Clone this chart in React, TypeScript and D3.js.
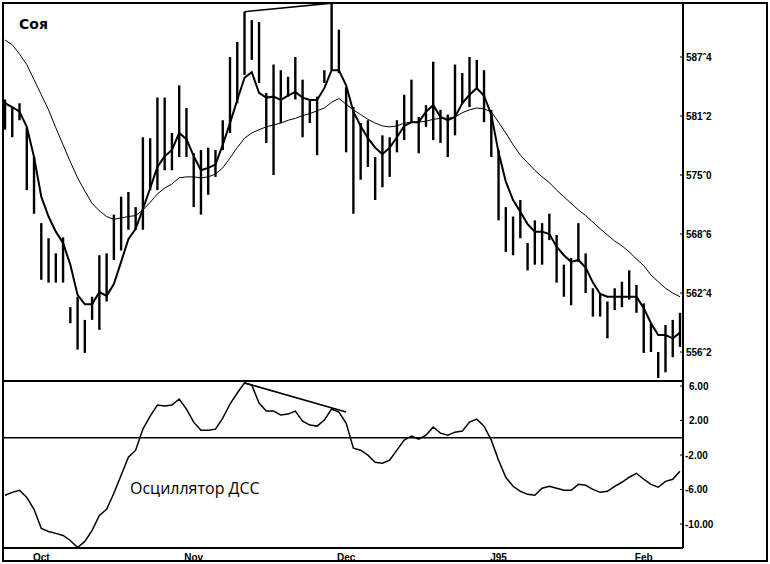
import React from 'react';
import * as d3 from 'd3';

// Daily bars (high / low)
const highs = [
  583.0, 582.2, 582.6, 580.0, 576.9, 569.9, 568.3, 566.7, 568.4, 561.0,
  562.1, 559.65, 562.1, 566.5, 566.7, 570.8, 572.7, 573.2, 571.6, 579.0,
  578.9, 583.2, 583.2, 579.45, 584.5, 582.1, 577.3, 577.65, 577.9, 577.65,
  580.8, 587.5, 589.1, 592.3, 591.4, 591.2, 583.7, 586.7, 586.1, 585.4,
  587.5, 585.1, 583.0, 583.3, 586.1, 593.2, 590.4, 584.3, 582.2, 580.5,
  580.8, 576.9, 579.2, 579.0, 580.8, 583.5, 585.1, 581.15, 582.4, 587.0,
  581.9, 581.4, 586.7, 585.8, 587.5, 587.2, 586.1, 581.9, 577.65, 571.6,
  570.6, 572.35, 567.8, 570.2, 569.9, 570.9, 568.65, 565.5, 566.2, 569.9,
  566.7, 563.0, 562.5, 561.6, 563.0, 563.7, 564.9, 563.35, 561.4, 559.3,
  556.25, 559.1, 559.65, 560.4,
];
const lows = [
  579.8, 579.0, 580.8, 573.4, 570.9, 563.9, 563.6, 563.6, 563.6, 559.3,
  556.5, 556.15, 559.65, 558.6, 561.6, 566.0, 567.0, 569.2, 569.2, 569.2,
  573.4, 573.4, 575.5, 575.5, 576.9, 576.9, 571.6, 570.8, 572.9, 574.8,
  577.65, 579.45, 582.6, 585.6, 587.2, 584.75, 578.4, 575.0, 580.5, 583.3,
  583.0, 579.0, 580.5, 577.1, 584.75, 586.1, 585.8, 577.4, 570.9, 574.5,
  575.85, 572.35, 573.7, 574.8, 577.4, 578.7, 580.5, 577.3, 580.1, 578.7,
  578.4, 576.9, 579.2, 582.6, 582.2, 584.0, 580.6, 576.9, 570.2, 566.85,
  566.5, 568.3, 564.9, 565.5, 565.5, 568.1, 563.6, 562.1, 561.2, 565.8,
  562.5, 560.0, 560.0, 557.7, 560.7, 561.0, 561.8, 560.4, 556.15, 556.25,
  553.5, 554.1, 555.7, 556.8,
];
// Short moving average (thick line)
const fastMA = [
  582.6, 582.2, 581.7, 580.1, 576.9, 572.7, 570.6, 569.0, 567.8, 565.5,
  562.3, 561.3, 561.3, 562.6, 562.2, 563.45, 565.8, 568.2, 569.3, 571.4,
  573.6, 575.85, 577.0, 577.65, 579.45, 578.8, 577.0, 575.5, 575.75, 576.1,
  578.2, 580.5, 582.95, 585.3, 585.9, 583.7, 583.2, 583.3, 582.95, 583.4,
  583.8, 583.2, 582.95, 582.95, 584.2, 586.1, 586.1, 584.5, 581.7, 580.2,
  578.9, 577.9, 577.2, 577.9, 579.0, 580.2, 580.6, 580.6, 581.7, 582.4,
  581.15, 580.8, 581.15, 582.6, 583.5, 584.2, 583.4, 581.4, 577.4, 574.3,
  572.35, 571.1, 569.8, 569.0, 569.0, 568.75, 567.4, 566.5, 565.8, 566.0,
  565.2, 563.6, 562.4, 562.1, 562.1, 562.1, 562.1, 562.1, 560.9, 559.3,
  558.05, 558.05, 557.7, 558.3,
];
// Long moving average (thin line)
const slowMA = [
  589.3, 588.8, 587.8, 586.7, 585.1, 583.5, 581.9, 580.0, 578.2, 576.4,
  574.7, 573.3, 572.0, 571.2, 570.6, 570.3, 570.45, 570.6, 570.7, 571.3,
  572.1, 573.0, 573.6, 574.05, 574.7, 574.8, 574.8, 574.7, 574.8, 575.1,
  575.75, 576.8, 577.9, 578.9, 579.45, 579.8, 580.1, 580.3, 580.5, 580.8,
  581.0, 581.3, 581.5, 581.8, 582.1, 582.7, 583.1, 582.5, 581.9, 581.4,
  580.9, 580.5, 580.2, 580.1, 580.2, 580.5, 580.6, 580.6, 580.7, 580.9,
  581.0, 581.0, 581.15, 581.6, 581.9, 582.1, 582.0, 581.7, 580.6, 579.45,
  578.2, 577.1, 576.3, 575.5, 574.8, 574.2, 573.4, 572.7, 572.0, 571.3,
  570.7, 570.0, 569.3, 568.65, 568.0, 567.5, 566.85, 566.1, 565.4, 564.4,
  563.7, 563.0, 562.5, 562.1,
];
// Oscillator (ДСС)
const osc = [
  -6.67, -6.33, -6.09, -6.91, -8.3, -10.51, -10.86, -11.09, -11.33, -11.91,
  -12.72, -12.02, -10.74, -9.0, -8.3, -6.44, -4.35, -2.26, -1.44, 1.0,
  2.51, 3.79, 3.67, 3.79, 4.49, 3.33, 1.81, 0.88, 0.88, 1.0,
  2.28, 3.91, 5.19, 6.35, 6.12, 4.02, 3.09, 3.09, 2.63, 2.74,
  3.09, 1.93, 1.47, 1.35, 2.05, 3.33, 2.98, 1.7, -1.21, -1.44,
  -2.02, -2.84, -2.95, -2.6, -1.44, -0.28, 0.19, -0.16, 0.3, 1.23,
  0.53, 0.3, 0.65, 0.77, 1.81, 2.16, 1.35, -0.28, -2.6, -4.58,
  -5.63, -6.21, -6.56, -6.67, -5.86, -5.63, -5.86, -6.09, -6.09, -5.4,
  -5.51, -5.98, -6.33, -6.21, -5.63, -5.16, -4.58, -4.12, -4.81, -5.4,
  -5.74, -5.05, -4.81, -3.88,
];

const months = ['Oct', 'Nov', 'Dec', 'J95', 'Feb'];
const monthIdx = [5, 26, 47, 68, 88];
const priceTicks = [587.5, 581.25, 575, 568.75, 562.5, 556.25];
const priceTickLabels = ['587ˆ4', '581ˆ2', '575ˆ0', '568ˆ6', '562ˆ4', '556ˆ2'];
const oscTicks = [6, 2, -2, -6, -10];
const oscTickLabels = ['6.00', '2.00', '-2.00', '-6.00', '-10.00'];
const priceTrend: [number, number][] = [[33, 592.3], [45, 593.2]];
const oscTrend: [number, number][] = [[33, 6.35], [47, 2.98]];

export default function App() {
  const W = 770, H = 564;
  const L = 3, R = 683, T = 3, PB = 381, OB = 548, FR = 767, FB = 561;

  const x = d3.scaleLinear().domain([0, highs.length - 1]).range([5, 680]);
  const yP = d3.scaleLinear().domain([556.25, 587.5]).range([352, 57]);
  const yO = d3.scaleLinear().domain([-10, 6]).range([524, 386]);

  const lineP = d3.line<number>().x((_, i) => x(i)).y((d) => yP(d));
  const lineO = d3.line<number>().x((_, i) => x(i)).y((d) => yO(d));
  const trendP = d3.line<[number, number]>().x((d) => x(d[0])).y((d) => yP(d[1]));
  const trendO = d3.line<[number, number]>().x((d) => x(d[0])).y((d) => yO(d[1]));

  const axisFont = '"Liberation Sans", Arial, sans-serif';

  return (
    <svg
      width={W}
      height={H}
      style={{ position: 'absolute', left: 0, top: 0, background: '#fff' }}
    >
      <defs>
        <clipPath id="pclip">
          <rect x={L} y={T} width={R - L} height={PB - T} />
        </clipPath>
        <clipPath id="oclip">
          <rect x={L} y={PB} width={R - L} height={OB - PB} />
        </clipPath>
        <clipPath id="mclip">
          <rect x={L} y={OB} width={R - L} height={FB - OB} />
        </clipPath>
      </defs>
      <rect x={0} y={0} width={W} height={H} fill="#fff" />

      {/* price panel */}
      <g clipPath="url(#pclip)">
        {highs.map((h, i) => (
          <line
            key={i}
            x1={x(i)}
            x2={x(i)}
            y1={yP(h)}
            y2={yP(lows[i])}
            stroke="#000"
            strokeWidth={2.4}
          />
        ))}
        <path d={lineP(slowMA) || ''} fill="none" stroke="#000" strokeWidth={1} />
        <path d={lineP(fastMA) || ''} fill="none" stroke="#000" strokeWidth={2} />
        <path d={trendP(priceTrend) || ''} fill="none" stroke="#000" strokeWidth={1.6} />
      </g>
      <text x={19} y={29} fontFamily='"DejaVu Sans", sans-serif' fontWeight="bold" fontSize={14}>
        Соя
      </text>

      {/* oscillator panel */}
      <line x1={L} x2={R} y1={yO(0)} y2={yO(0)} stroke="#000" strokeWidth={1.6} />
      <g clipPath="url(#oclip)">
        <path d={lineO(osc) || ''} fill="none" stroke="#000" strokeWidth={1.5} />
        <path d={trendO(oscTrend) || ''} fill="none" stroke="#000" strokeWidth={1.6} />
      </g>
      <text x={130} y={494} fontFamily='"Open Sans", sans-serif' fontSize={16}>
        Осциллятор ДСС
      </text>

      {/* month labels */}
      <g clipPath="url(#mclip)">
        {months.map((m, i) => (
          <text
            key={m}
            x={x(monthIdx[i])}
            y={561}
            textAnchor="middle"
            fontFamily={axisFont}
            fontWeight="bold"
            fontSize={10}
          >
            {m}
          </text>
        ))}
      </g>

      {/* frames */}
      <rect x={L} y={T} width={FR - L} height={FB - T} fill="none" stroke="#000" strokeWidth={2} />
      <line x1={R} x2={R} y1={T} y2={OB} stroke="#000" strokeWidth={2} />
      <line x1={L} x2={R} y1={PB} y2={PB} stroke="#000" strokeWidth={2} />
      <line x1={L} x2={R} y1={OB} y2={OB} stroke="#000" strokeWidth={2} />

      {/* right axes */}
      {priceTicks.map((v, i) => (
        <g key={'p' + i}>
          <line x1={R - 3} x2={R} y1={yP(v)} y2={yP(v)} stroke="#000" strokeWidth={1} />
          <text
            x={686}
            y={yP(v)}
            dy="0.35em"
            fontFamily={axisFont}
            fontWeight="bold"
            fontSize={10}
          >
            {priceTickLabels[i]}
          </text>
        </g>
      ))}
      {oscTicks.map((v, i) => (
        <g key={'o' + i}>
          <line x1={R - 3} x2={R} y1={yO(v)} y2={yO(v)} stroke="#000" strokeWidth={1} />
          <text
            x={v < 0 ? 685 : 689}
            y={yO(v)}
            dy="0.35em"
            fontFamily={axisFont}
            fontWeight="bold"
            fontSize={10}
          >
            {oscTickLabels[i]}
          </text>
        </g>
      ))}
    </svg>
  );
}
